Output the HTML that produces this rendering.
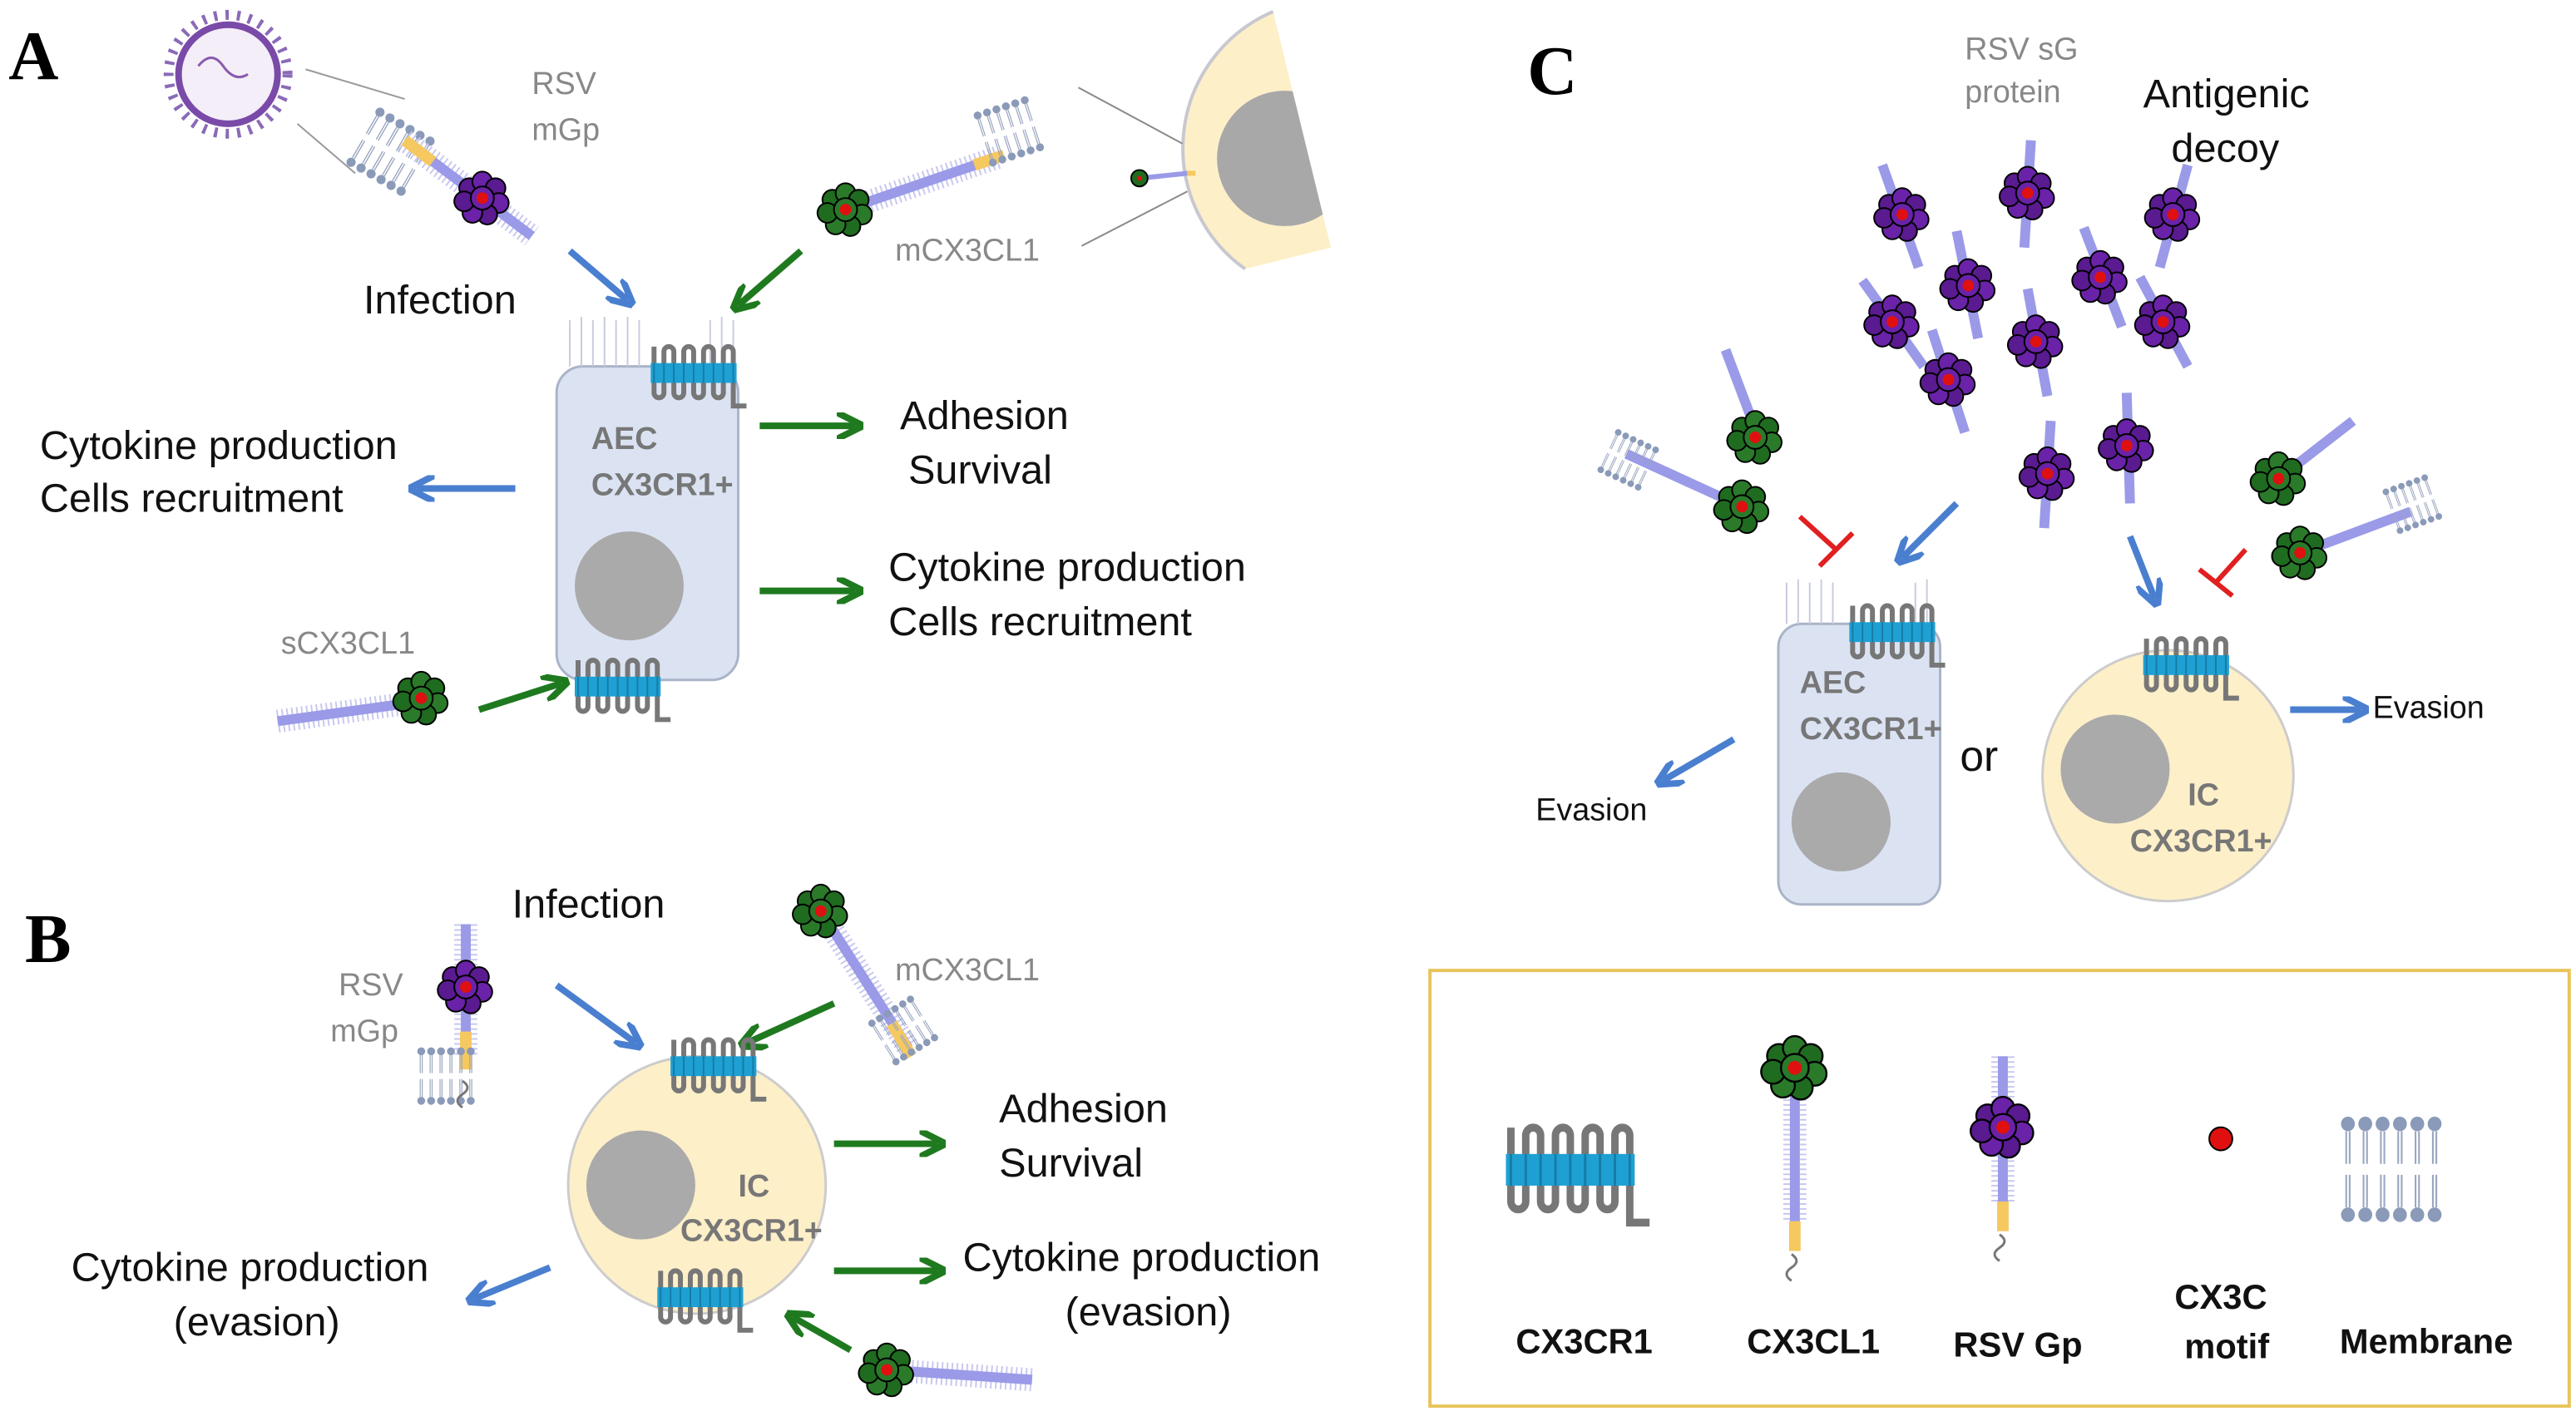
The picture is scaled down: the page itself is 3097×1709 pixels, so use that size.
<!DOCTYPE html>
<html><head><meta charset="utf-8"><style>
html,body{margin:0;padding:0;background:#fff;}
svg{display:block;}
text{font-family:"Liberation Sans",sans-serif;}
.k{font-size:24.5px;fill:#111;}
.g{font-size:19px;fill:#888;}
.c{font-size:19px;fill:#777;font-weight:bold;}
.L{font-family:"Liberation Serif",serif;font-weight:bold;font-size:42px;fill:#000;}
.lg{font-size:21px;font-weight:bold;fill:#111;}
</style></head><body>
<svg width="3097" height="1709" viewBox="0 0 1560 861" xmlns="http://www.w3.org/2000/svg">
<defs>
<marker id="ab" viewBox="0 0 10 10" refX="7" refY="5" markerWidth="4" markerHeight="4" orient="auto"><path d="M0,0 L10,5 L0,10" fill="none" stroke="#4a7fd0" stroke-width="2.5"/></marker>
<marker id="ag" viewBox="0 0 10 10" refX="7" refY="5" markerWidth="4" markerHeight="4" orient="auto"><path d="M0,0 L10,5 L0,10" fill="none" stroke="#1f7a1f" stroke-width="2.5"/></marker>
<clipPath id="hc"><path d="M771,7 A90,90 0 0 0 754,163 L806,150 Z"/></clipPath>
<g id="rec">
<path d="M0,2 V30 A3,3 0 0 0 6,30 V5 A3,3 0 0 1 12,5 V30 A3,3 0 0 0 18,30 V5 A3,3 0 0 1 24,5 V30 A3,3 0 0 0 30,30 V5 A3,3 0 0 1 36,5 V30 A3,3 0 0 0 42,30 V5 A3,3 0 0 1 48,5 V38 H56" fill="none" stroke="#777" stroke-width="3"/>
<rect x="-2" y="12" width="52" height="12" fill="#1ea0d2"/>
<path d="M0,12V24M6,12V24M12,12V24M18,12V24M24,12V24M30,12V24M36,12V24M42,12V24M48,12V24" stroke="#157ca8" stroke-width="1"/>
</g>
<g id="gb">
<circle cx="-8" cy="-6" r="6" fill="#1f6b1f" stroke="#000" stroke-width="1"/><circle cx="0" cy="-10" r="6" fill="#2a7a2a" stroke="#000"/><circle cx="8" cy="-6" r="6" fill="#1f6b1f" stroke="#000"/><circle cx="10" cy="3" r="6" fill="#2a7a2a" stroke="#000"/><circle cx="3" cy="10" r="6" fill="#1f6b1f" stroke="#000"/><circle cx="-6" cy="9" r="6" fill="#2a7a2a" stroke="#000"/><circle cx="-11" cy="2" r="6" fill="#1f6b1f" stroke="#000"/><circle cx="0" cy="0" r="7" fill="#2a7a2a" stroke="#000"/><circle cx="0" cy="0" r="3.5" fill="#e01010"/>
</g>
<g id="pb">
<circle cx="-8" cy="-6" r="6" fill="#5a1a90" stroke="#000"/><circle cx="0" cy="-10" r="6" fill="#6a22a8" stroke="#000"/><circle cx="8" cy="-6" r="6" fill="#5a1a90" stroke="#000"/><circle cx="10" cy="3" r="6" fill="#6a22a8" stroke="#000"/><circle cx="3" cy="10" r="6" fill="#5a1a90" stroke="#000"/><circle cx="-6" cy="9" r="6" fill="#6a22a8" stroke="#000"/><circle cx="-11" cy="2" r="6" fill="#5a1a90" stroke="#000"/><circle cx="0" cy="0" r="7" fill="#6a22a8" stroke="#000"/><circle cx="0" cy="0" r="3.5" fill="#e01010"/>
</g>
<g id="mem">
<g fill="#8a9ab8"><circle cx="0" cy="0" r="4"/><circle cx="10" cy="0" r="4"/><circle cx="20" cy="0" r="4"/><circle cx="30" cy="0" r="4"/><circle cx="40" cy="0" r="4"/><circle cx="50" cy="0" r="4"/>
<circle cx="0" cy="50" r="4"/><circle cx="10" cy="50" r="4"/><circle cx="20" cy="50" r="4"/><circle cx="30" cy="50" r="4"/><circle cx="40" cy="50" r="4"/><circle cx="50" cy="50" r="4"/></g>
<path d="M-1,4v18M1,4v18M9,4v18M11,4v18M19,4v18M21,4v18M29,4v18M31,4v18M39,4v18M41,4v18M49,4v18M51,4v18M-1,28v18M1,28v18M9,28v18M11,28v18M19,28v18M21,28v18M29,28v18M31,28v18M39,28v18M41,28v18M49,28v18M51,28v18" stroke="#9aa6c0" stroke-width="1"/>
</g>
</defs>

<g stroke-linecap="butt">
<!-- Panel A -->
<text class="L" x="5" y="48">A</text>
<circle cx="138" cy="45" r="30" fill="#f4eef8" stroke="#7a4aa8" stroke-width="4"/>
<circle cx="138" cy="45" r="36" fill="none" stroke="#8a6ab8" stroke-width="6" stroke-dasharray="2 5"/>
<path d="M120,40 q8,-10 15,0 t15,5" fill="none" stroke="#8a5ab0" stroke-width="1.5"/>
<line x1="185" y1="42" x2="245" y2="60" stroke="#999"/><line x1="180" y1="75" x2="215" y2="105" stroke="#999"/>
<g transform="translate(230,68) rotate(30)"><use href="#mem" transform="scale(0.7)"/></g>
<line x1="245" y1="85" x2="322" y2="143" stroke="#c8c8f0" stroke-width="14" stroke-dasharray="1 2"/>
<line x1="245" y1="85" x2="322" y2="143" stroke="#9a9ae8" stroke-width="6"/>
<line x1="245" y1="85" x2="262" y2="98" stroke="#f5c860" stroke-width="7"/>
<use href="#pb" x="292" y="120"/>
<text class="g" x="322" y="57">RSV</text><text class="g" x="322" y="85">mGp</text>
<line x1="345" y1="152" x2="380" y2="182" stroke="#4a7fd0" stroke-width="4" marker-end="url(#ab)"/>
<text class="k" x="220" y="190">Infection</text>
<line x1="512" y1="127" x2="605" y2="95" stroke="#c8c8f0" stroke-width="14" stroke-dasharray="1 2"/>
<line x1="512" y1="127" x2="605" y2="95" stroke="#9a9ae8" stroke-width="6"/>
<line x1="590" y1="100" x2="608" y2="94" stroke="#f5c860" stroke-width="7"/>
<g transform="translate(592,70) rotate(-18)"><use href="#mem" transform="scale(0.6)"/></g>
<use href="#gb" x="512" y="127"/>
<text class="g" x="542" y="158">mCX3CL1</text>
<line x1="485" y1="152" x2="447" y2="185" stroke="#1f7a1f" stroke-width="4" marker-end="url(#ag)"/>
<path d="M771,7 A90,90 0 0 0 754,163 L806,150 Z" fill="#fdefc8"/>
<path d="M771,7 A90,90 0 0 0 754,163" fill="none" stroke="#c8c8d0" stroke-width="2"/>
<circle cx="778" cy="96" r="41" fill="#a8a8a8" clip-path="url(#hc)"/>
<line x1="653" y1="53" x2="716" y2="87" stroke="#888"/><line x1="655" y1="149" x2="719" y2="116" stroke="#888"/>
<line x1="690" y1="108" x2="719" y2="105" stroke="#9a9ae8" stroke-width="3"/>
<line x1="719" y1="105" x2="724" y2="105" stroke="#f5c860" stroke-width="3"/>
<circle cx="690" cy="108" r="5" fill="#1f6b1f" stroke="#000"/><circle cx="690" cy="108" r="1.5" fill="#e01010"/>
<rect x="337" y="222" width="110" height="190" rx="16" fill="#dbe3f3" stroke="#aab4c8" stroke-width="1.5"/>
<path d="M345,222 v-28 M352,222 v-30 M359,222 v-28 M366,222 v-30 M373,222 v-28 M380,222 v-30 M387,222 v-28 M430,222 v-28 M437,222 v-30 M444,222 v-28" stroke="#c8ccdd" stroke-width="1"/>
<circle cx="381" cy="355" r="33" fill="#aaa"/>
<use href="#rec" x="396" y="208"/>
<use href="#rec" x="350" y="398"/>
<text class="c" x="358" y="272">AEC</text><text class="c" x="358" y="300">CX3CR1+</text>
<line x1="312" y1="296" x2="252" y2="296" stroke="#4a7fd0" stroke-width="4" marker-end="url(#ab)"/>
<text class="k" x="24" y="278">Cytokine production</text><text class="k" x="24" y="310">Cells recruitment</text>
<line x1="460" y1="258" x2="518" y2="258" stroke="#1f7a1f" stroke-width="4" marker-end="url(#ag)"/>
<line x1="460" y1="358" x2="518" y2="358" stroke="#1f7a1f" stroke-width="4" marker-end="url(#ag)"/>
<text class="k" x="545" y="260">Adhesion</text><text class="k" x="550" y="293">Survival</text>
<text class="k" x="538" y="352">Cytokine production</text><text class="k" x="538" y="385">Cells recruitment</text>
<text class="g" x="170" y="396">sCX3CL1</text>
<line x1="168" y1="437" x2="255" y2="425" stroke="#c8c8f0" stroke-width="14" stroke-dasharray="1 2"/>
<line x1="168" y1="437" x2="255" y2="425" stroke="#9a9ae8" stroke-width="6"/>
<use href="#gb" x="255" y="423"/>
<line x1="290" y1="430" x2="340" y2="414" stroke="#1f7a1f" stroke-width="4" marker-end="url(#ag)"/>

<!-- Panel B -->
<text class="L" x="15" y="583">B</text>
<text class="k" x="310" y="556">Infection</text>
<text class="g" x="205" y="603">RSV</text><text class="g" x="200" y="631">mGp</text>
<line x1="282" y1="560" x2="282" y2="640" stroke="#c8c8f0" stroke-width="14" stroke-dasharray="1 2"/>
<line x1="282" y1="560" x2="282" y2="640" stroke="#9a9ae8" stroke-width="6"/>
<line x1="282" y1="625" x2="282" y2="648" stroke="#f5c860" stroke-width="7"/>
<use href="#mem" transform="translate(255,637) scale(0.6)"/>
<path d="M280,655 q6,4 0,8 q-6,4 0,8" fill="none" stroke="#777" stroke-width="1.5"/>
<use href="#pb" x="282" y="598"/>
<line x1="337" y1="597" x2="385" y2="632" stroke="#4a7fd0" stroke-width="4" marker-end="url(#ab)"/>
<line x1="497" y1="552" x2="550" y2="635" stroke="#c8c8f0" stroke-width="14" stroke-dasharray="1 2"/>
<line x1="497" y1="552" x2="550" y2="635" stroke="#9a9ae8" stroke-width="6"/>
<line x1="540" y1="620" x2="552" y2="640" stroke="#f5c860" stroke-width="7"/>
<g transform="translate(528,620) rotate(-32)"><use href="#mem" transform="scale(0.55)"/></g>
<use href="#gb" x="497" y="552"/>
<text class="g" x="542" y="594">mCX3CL1</text>
<line x1="505" y1="608" x2="452" y2="632" stroke="#1f7a1f" stroke-width="4" marker-end="url(#ag)"/>
<circle cx="422" cy="718" r="78" fill="#fdefc8" stroke="#ccc" stroke-width="1.5"/>
<circle cx="388" cy="718" r="33" fill="#aaa"/>
<use href="#rec" x="408" y="628"/>
<use href="#rec" x="400" y="768"/>
<text class="c" x="447" y="725">IC</text><text class="c" x="412" y="752">CX3CR1+</text>
<line x1="505" y1="693" x2="568" y2="693" stroke="#1f7a1f" stroke-width="4" marker-end="url(#ag)"/>
<line x1="505" y1="770" x2="568" y2="770" stroke="#1f7a1f" stroke-width="4" marker-end="url(#ag)"/>
<text class="k" x="605" y="680">Adhesion</text><text class="k" x="605" y="713">Survival</text>
<text class="k" x="583" y="770">Cytokine production</text><text class="k" x="645" y="803">(evasion)</text>
<line x1="333" y1="768" x2="287" y2="787" stroke="#4a7fd0" stroke-width="4" marker-end="url(#ab)"/>
<text class="k" x="43" y="776">Cytokine production</text><text class="k" x="105" y="809">(evasion)</text>
<line x1="537" y1="830" x2="625" y2="836" stroke="#c8c8f0" stroke-width="14" stroke-dasharray="1 2"/>
<line x1="537" y1="830" x2="625" y2="836" stroke="#9a9ae8" stroke-width="6"/>
<use href="#gb" x="537" y="830"/>
<line x1="515" y1="818" x2="480" y2="798" stroke="#1f7a1f" stroke-width="4" marker-end="url(#ag)"/>

<!-- Panel C -->
<text class="L" x="925" y="57">C</text>
<text class="g" x="1190" y="36">RSV sG</text><text class="g" x="1190" y="62">protein</text>
<text class="k" x="1298" y="65">Antigenic</text><text class="k" x="1315" y="98">decoy</text>
<g stroke="#9a9ae8" stroke-width="6">
<line x1="1140" y1="100" x2="1162" y2="162"/><line x1="1230" y1="85" x2="1226" y2="150"/><line x1="1325" y1="100" x2="1308" y2="162"/>
<line x1="1185" y1="140" x2="1198" y2="205"/><line x1="1262" y1="138" x2="1285" y2="198"/><line x1="1128" y1="170" x2="1165" y2="222"/>
<line x1="1228" y1="175" x2="1240" y2="240"/><line x1="1296" y1="168" x2="1325" y2="222"/><line x1="1170" y1="200" x2="1190" y2="262"/>
<line x1="1242" y1="255" x2="1238" y2="320"/><line x1="1288" y1="238" x2="1290" y2="305"/>
<line x1="1045" y1="212" x2="1065" y2="265"/><line x1="985" y1="275" x2="1055" y2="307"/>
<line x1="1425" y1="255" x2="1380" y2="290"/><line x1="1460" y1="310" x2="1393" y2="335"/>
</g>
<use href="#pb" x="1152" y="130"/><use href="#pb" x="1228" y="117"/><use href="#pb" x="1316" y="130"/>
<use href="#pb" x="1192" y="173"/><use href="#pb" x="1272" y="168"/><use href="#pb" x="1146" y="195"/>
<use href="#pb" x="1233" y="207"/><use href="#pb" x="1310" y="195"/><use href="#pb" x="1180" y="230"/>
<use href="#pb" x="1240" y="287"/><use href="#pb" x="1288" y="270"/>
<use href="#gb" x="1063" y="265"/><use href="#gb" x="1055" y="307"/><use href="#gb" x="1380" y="290"/><use href="#gb" x="1393" y="335"/>
<g transform="translate(980,262) rotate(25)"><use href="#mem" transform="scale(0.5)"/></g>
<g transform="translate(1445,298) rotate(-20)"><use href="#mem" transform="scale(0.5)"/></g>
<path d="M1090,313 L1112,333 M1102,343 L1122,323" stroke="#e02020" stroke-width="3" fill="none"/>
<path d="M1360,333 L1342,353 M1332,345 L1352,361" stroke="#e02020" stroke-width="3" fill="none"/>
<line x1="1185" y1="305" x2="1152" y2="338" stroke="#4a7fd0" stroke-width="4" marker-end="url(#ab)"/>
<line x1="1290" y1="325" x2="1305" y2="363" stroke="#4a7fd0" stroke-width="4" marker-end="url(#ab)"/>
<rect x="1077" y="378" width="98" height="170" rx="14" fill="#dbe3f3" stroke="#aab4c8" stroke-width="1.5"/>
<path d="M1082,378 v-25 M1089,378 v-27 M1096,378 v-25 M1103,378 v-27 M1110,378 v-25 M1160,378 v-25 M1167,378 v-27" stroke="#c8ccdd" stroke-width="1"/>
<circle cx="1115" cy="498" r="30" fill="#aaa"/>
<use href="#rec" x="1122" y="365"/>
<text class="c" x="1090" y="420">AEC</text><text class="c" x="1090" y="448">CX3CR1+</text>
<text x="1187" y="467" style="font-size:26px;fill:#111">or</text>
<circle cx="1313" cy="470" r="76" fill="#fdefc8" stroke="#ccc" stroke-width="1.5"/>
<circle cx="1281" cy="466" r="33" fill="#aaa"/>
<use href="#rec" x="1300" y="385"/>
<text class="c" x="1325" y="488">IC</text><text class="c" x="1290" y="516">CX3CR1+</text>
<line x1="1050" y1="448" x2="1007" y2="473" stroke="#4a7fd0" stroke-width="4" marker-end="url(#ab)"/>
<line x1="1387" y1="430" x2="1430" y2="430" stroke="#4a7fd0" stroke-width="4" marker-end="url(#ab)"/>
<text x="930" y="497" style="font-size:19px;fill:#111">Evasion</text>
<text x="1437" y="435" style="font-size:19px;fill:#111">Evasion</text>

<!-- Legend -->
<rect x="866" y="588" width="690" height="264" fill="#fff" stroke="#e8c45a" stroke-width="2"/>
<use href="#rec" transform="translate(915,680) scale(1.5,1.6)"/>
<line x1="1087" y1="660" x2="1087" y2="740" stroke="#c8c8f0" stroke-width="14" stroke-dasharray="1 2"/>
<line x1="1087" y1="660" x2="1087" y2="740" stroke="#9a9ae8" stroke-width="6"/>
<line x1="1087" y1="740" x2="1087" y2="758" stroke="#f5c860" stroke-width="7"/>
<path d="M1085,760 q6,4 0,8 q-6,4 0,8" fill="none" stroke="#777" stroke-width="1.5"/>
<use href="#gb" transform="translate(1087,647) scale(1.2)"/>
<line x1="1213" y1="640" x2="1213" y2="728" stroke="#c8c8f0" stroke-width="14" stroke-dasharray="1 2"/>
<line x1="1213" y1="640" x2="1213" y2="728" stroke="#9a9ae8" stroke-width="6"/>
<line x1="1213" y1="728" x2="1213" y2="746" stroke="#f5c860" stroke-width="7"/>
<path d="M1211,748 q6,4 0,8 q-6,4 0,8" fill="none" stroke="#777" stroke-width="1.5"/>
<use href="#pb" transform="translate(1213,683) scale(1.15)"/>
<circle cx="1345" cy="690" r="7" fill="#e01010" stroke="#000"/>
<use href="#mem" transform="translate(1422,681) scale(1.05,1.1)"/>
<text class="lg" x="918" y="820">CX3CR1</text><text class="lg" x="1058" y="820">CX3CL1</text>
<text class="lg" x="1183" y="822">RSV Gp</text>
<text class="lg" x="1317" y="793">CX3C</text><text class="lg" x="1323" y="823">motif</text>
<text class="lg" x="1417" y="820">Membrane</text>
</g>
</svg>
</body></html>
